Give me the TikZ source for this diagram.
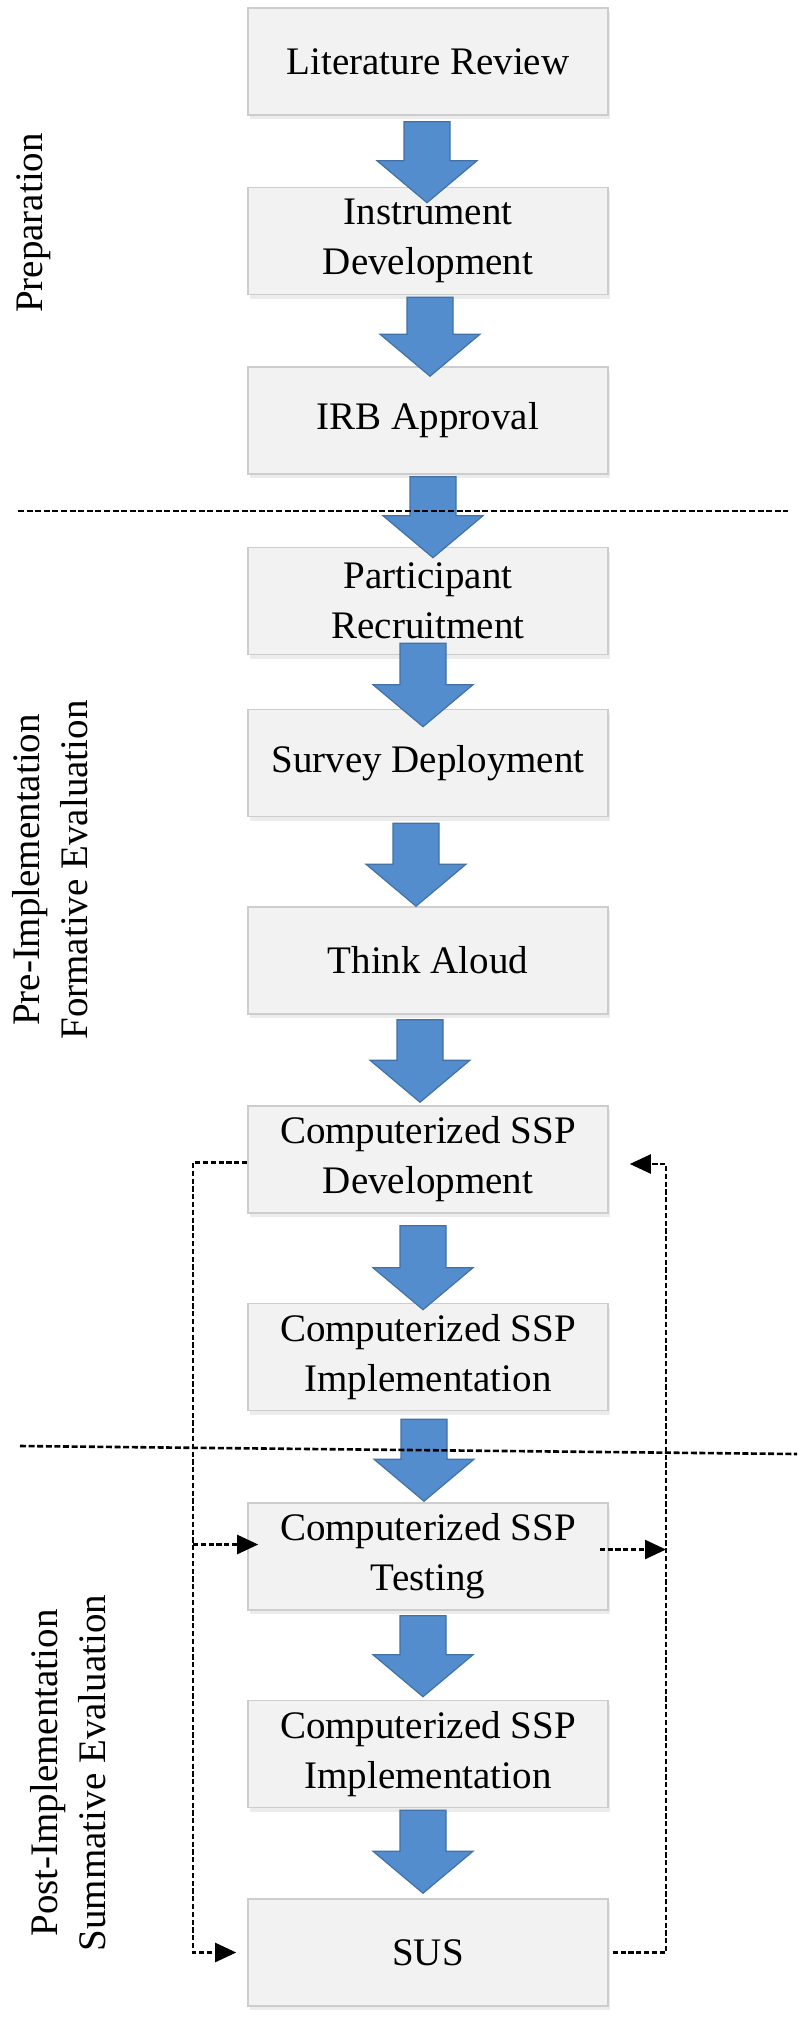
\documentclass[tikz,border=0pt]{standalone}
\usepackage{fontspec}
\setmainfont{Liberation Serif}
\usetikzlibrary{arrows.meta,calc,shadows}
\definecolor{boxfill}{RGB}{242,242,242}
\definecolor{boxline}{RGB}{205,205,205}
\definecolor{arrowblue}{RGB}{84,141,206}
\definecolor{arrowedge}{RGB}{65,113,165}
\newcommand{\blockarr}[5]{%
  \filldraw[blockarrow] let \p1=($(#1.south)+(#3,#4)$), \p2=($(#2.north)+(#3,#5)$) in
  (\x1-11.5pt,\y1) -- (\x1+11.5pt,\y1) -- (\x1+11.5pt,\y2+21pt) -- (\x1+25pt,\y2+21pt)
  -- (\x1,\y2) -- (\x1-25pt,\y2+21pt) -- (\x1-11.5pt,\y2+21pt) -- cycle;}
\begin{document}
\begin{tikzpicture}[x=0.5pt,y=-0.5pt,
  stagebox/.style={draw=boxline, line width=0.8pt, fill=boxfill,
    minimum width=180pt, minimum height=53.5pt, inner sep=0pt, align=center,
    font=\fontsize{19.5}{25}\selectfont,
    drop shadow={shadow xshift=0.8pt, shadow yshift=-2pt, opacity=0.15}},
  blockarrow/.style={fill=arrowblue, draw=arrowedge, line width=0.6pt},
  phaselabel/.style={rotate=90, align=center, inner sep=0pt, font=\fontsize{19.5}{24}\selectfont},
  divline/.style={line width=1.3pt, dash pattern=on 3pt off 1.3pt},
  fbline/.style={line width=1.2pt, dash pattern=on 2.6pt off 1.3pt},
  fbarrow/.style={fbline, -{Triangle[length=10.5pt,width=9.5pt]}}]
\fill[white] (0,0) rectangle (800,2033);
\useasboundingbox (0,0) rectangle (800,2033);

% stage boxes
\node[stagebox] (b1)  at (428,61.5)  {Literature Review};
\node[stagebox] (b2)  at (428,241)   {Instrument\\Development};
\node[stagebox] (b3)  at (428,420.5) {IRB Approval};
\node[stagebox] (b4)  at (428,601)   {Participant\\Recruitment};
\node[stagebox] (b5)  at (428,763)   {Survey Deployment};
\node[stagebox] (b6)  at (428,960.5) {Think Aloud};
\node[stagebox] (b7)  at (428,1159.5){Computerized SSP\\Development};
\node[stagebox] (b8)  at (428,1357)  {Computerized SSP\\Implementation};
\node[stagebox] (b9)  at (428,1556.5){Computerized SSP\\Testing};
\node[stagebox] (b10) at (428,1754)  {Computerized SSP\\Implementation};
\node[stagebox] (b11) at (428,1952.5){SUS};

% block arrows
\blockarr{b1}{b2}{-1}{6}{16}
\blockarr{b2}{b3}{2}{2}{10}
\blockarr{b3}{b4}{5}{2}{11}
\blockarr{b4}{b5}{-5}{-12}{18}
\blockarr{b5}{b6}{-12}{6}{0}
\blockarr{b6}{b7}{-8}{5}{-3}
\blockarr{b7}{b8}{-5}{12}{7}
\blockarr{b8}{b9}{-4}{8}{-1}
\blockarr{b9}{b10}{-5}{5}{-3}
\blockarr{b10}{b11}{-5}{2}{-5}

% phase labels
\node[phaselabel] (lprep) at (34,223) {Preparation};
\node[phaselabel] (lpre)  at (50,870) {Pre-Implementation\\Formative Evaluation};
\node[phaselabel] (lpost) at (68,1773) {Post-Implementation\\Summative Evaluation};

% separator lines
\coordinate (s1a) at (18,511);
\coordinate (s1b) at (788,511);
\coordinate (s2a) at (20,1446);
\coordinate (s2b) at (797,1454);
\draw[divline] (s1a) -- (s1b);
\draw[divline] (s2a) -- (s2b);

% feedback loop, left side
\coordinate (lx) at (193,0);
\coordinate (dOut) at ($(b7.west)+(0,3)$);
\coordinate (fbL2) at (lx |- dOut);
\coordinate (sIn) at ($(b11.west)+(-11,0)$);
\coordinate (fbL3) at (lx |- sIn);
\coordinate (tIn) at ($(b9.west)+(11,-12)$);
\coordinate (fbL4) at (lx |- tIn);
\draw[fbarrow] (dOut) -- (fbL2) -- (fbL3) -- (sIn);
\draw[fbarrow] (fbL4) -- (tIn);

% feedback loop, right side
\coordinate (rx) at (666,0);
\coordinate (sOut) at ($(b11.east)+(4,0)$);
\coordinate (fbR1) at (rx |- sOut);
\coordinate (dIn) at ($(b7.east)+(21,4.5)$);
\coordinate (fbR2) at (rx |- dIn);
\coordinate (tOut) at ($(b9.east)+(-9,-7)$);
\coordinate (fbR3) at (rx |- tOut);
\draw[fbarrow] (sOut) -- (fbR1) -- (fbR2) -- (dIn);
\draw[fbarrow] (tOut) -- (fbR3);
\end{tikzpicture}
\end{document}
